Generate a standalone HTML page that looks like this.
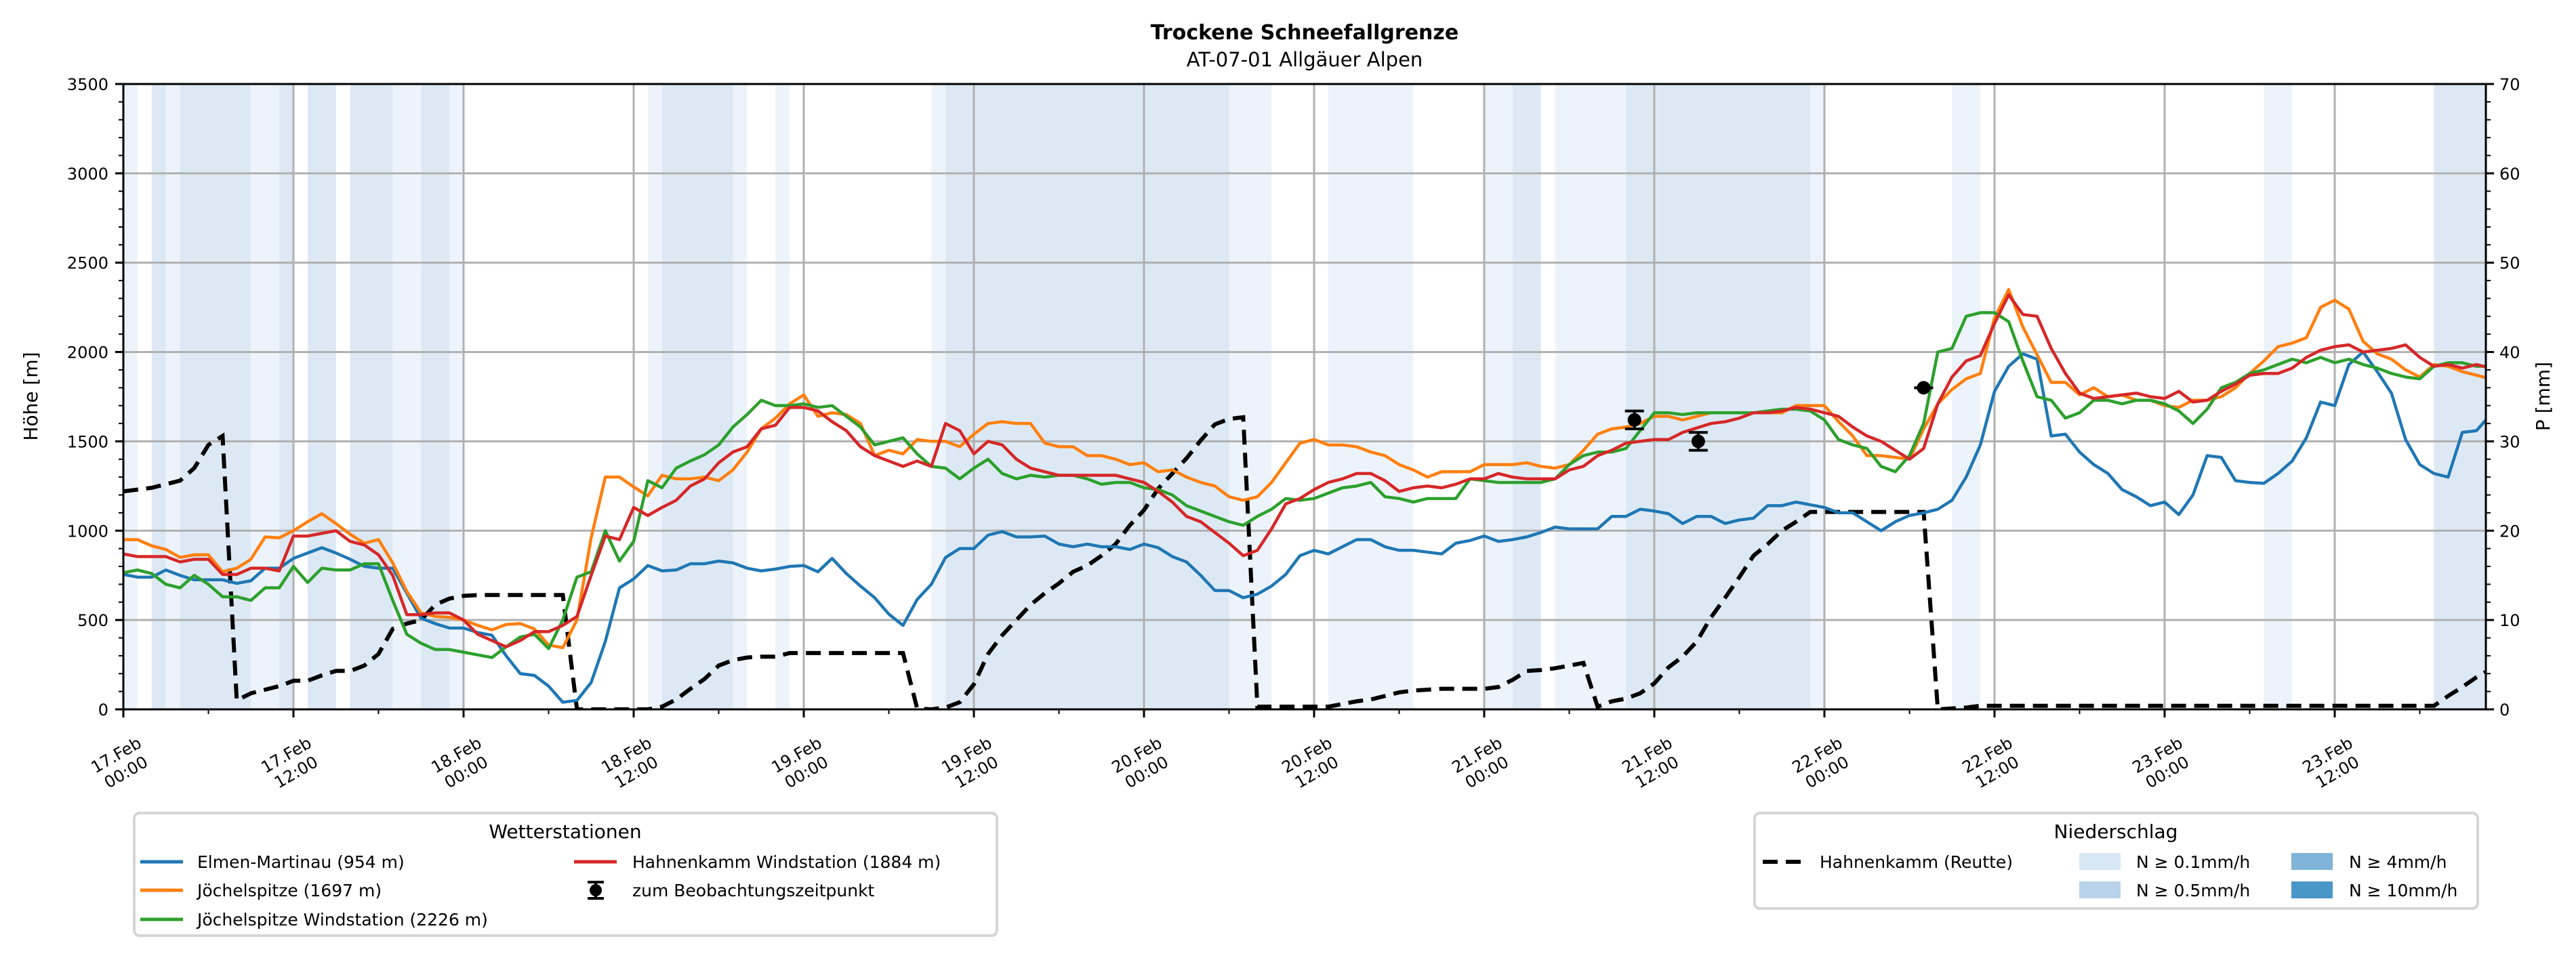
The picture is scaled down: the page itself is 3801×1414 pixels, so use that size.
<!DOCTYPE html>
<html><head><meta charset="utf-8"><title>Trockene Schneefallgrenze</title>
<style>
html,body{margin:0;padding:0;background:#fff;}
svg{display:block;font-family:"DejaVu Sans","Liberation Sans",sans-serif;}
</style></head>
<body>
<svg id="chart" width="3801" height="1414" viewBox="0 0 3801 1414" xmlns="http://www.w3.org/2000/svg">
<defs><clipPath id="plotclip"><rect x="182" y="124" width="3486" height="923"/></clipPath></defs>
<rect x="0" y="0" width="3801" height="1414" fill="#fff"/>
<text x="1925" y="58" font-size="30" font-weight="bold" text-anchor="middle">Trockene Schneefallgrenze</text>
<text x="1925" y="98" font-size="29" text-anchor="middle">AT-07-01 Allgäuer Alpen</text>
<g id="bands" clip-path="url(#plotclip)"></g>
<g id="grid"></g>
<g id="series" clip-path="url(#plotclip)"></g>
<g id="axes"></g>
<text transform="translate(55,585) rotate(-90)" font-size="28" text-anchor="middle">Höhe [m]</text>
<text transform="translate(3762,585) rotate(-90)" font-size="28" text-anchor="middle">P [mm]</text>

<g>
<rect x="198" y="1200" width="1273" height="181" rx="8" fill="#fff" stroke="#d5d5d5" stroke-width="4"/>
<text x="834" y="1237" font-size="28" text-anchor="middle">Wetterstationen</text>
<g><line x1="207" y1="1272" x2="270" y2="1272" stroke="#1f77b4" stroke-width="5"/><text x="291" y="1281" font-size="25">Elmen-Martinau (954 m)</text></g>
<g><line x1="207" y1="1314" x2="270" y2="1314" stroke="#ff7f0e" stroke-width="5"/><text x="291" y="1323" font-size="25">Jöchelspitze (1697 m)</text></g>
<g><line x1="207" y1="1357" x2="270" y2="1357" stroke="#2ca02c" stroke-width="5"/><text x="291" y="1366" font-size="25">Jöchelspitze Windstation (2226 m)</text></g>
<g><line x1="847" y1="1272" x2="910" y2="1272" stroke="#d62728" stroke-width="5"/><text x="933" y="1281" font-size="25">Hahnenkamm Windstation (1884 m)</text></g>
<g><line x1="879" y1="1302" x2="879" y2="1326" stroke="#000" stroke-width="4"/><line x1="867" y1="1302" x2="891" y2="1302" stroke="#000" stroke-width="4"/><line x1="867" y1="1326" x2="891" y2="1326" stroke="#000" stroke-width="4"/><circle cx="879" cy="1314" r="9" fill="#000"/><text x="933" y="1323" font-size="25">zum Beobachtungszeitpunkt</text></g>
</g>

<g>
<rect x="2589" y="1200" width="1067" height="141" rx="8" fill="#fff" stroke="#d5d5d5" stroke-width="4"/>
<text x="3122" y="1237" font-size="28" text-anchor="middle">Niederschlag</text>
<g><line x1="2601" y1="1272" x2="2657" y2="1272" stroke="#000" stroke-width="6" stroke-dasharray="22,12"/><text x="2685" y="1281" font-size="25">Hahnenkamm (Reutte)</text></g>
<g><rect x="3068" y="1259" width="61" height="25" fill="#d9e8f5"/><text x="3152" y="1281" font-size="25">N ≥ 0.1mm/h</text></g>
<g><rect x="3068" y="1301" width="61" height="25" fill="#b9d4ea"/><text x="3152" y="1323" font-size="25">N ≥ 0.5mm/h</text></g>
<g><rect x="3381" y="1259" width="61" height="25" fill="#7fb5d9"/><text x="3466" y="1281" font-size="25">N ≥ 4mm/h</text></g>
<g><rect x="3381" y="1301" width="61" height="25" fill="#4a96c9"/><text x="3466" y="1323" font-size="25">N ≥ 10mm/h</text></g>
</g>
</svg>
<script>
const elmen = [755,740,740,780,750,725,725,725,705,720,
790,790,845,875,905,875,840,800,790,790,
650,510,480,455,455,430,415,300,200,190,
130,40,50,150,380,680,730,805,775,780,
815,815,830,820,790,775,785,800,805,770,
845,760,690,625,533,470,615,700,850,900,
900,975,995,965,965,970,925,910,925,910,
910,895,925,905,855,825,750,665,665,625,
645,690,755,860,890,870,910,950,950,910,
890,890,880,870,930,945,970,940,950,965,
990,1020,1010,1010,1010,1080,1080,1120,1110,1095,
1040,1080,1080,1040,1060,1070,1140,1140,1160,1145,
1130,1100,1100,1050,1000,1050,1085,1100,1120,1170,
1300,1480,1780,1920,1990,1960,1530,1540,1440,1370,
1320,1230,1190,1140,1160,1090,1200,1420,1410,1280,
1270,1265,1320,1390,1520,1720,1700,1930,2000,1890,
1770,1510,1370,1320,1300,1550,1560,1650];
const joechel = [950,950,915,895,850,865,865,770,790,840,
965,960,1000,1050,1095,1040,980,930,950,820,
660,540,520,515,500,470,445,475,480,450,
360,345,500,960,1300,1300,1245,1195,1310,1290,
1290,1300,1280,1340,1440,1570,1630,1710,1760,1640,
1660,1650,1600,1420,1450,1430,1510,1500,1500,1470,
1540,1600,1610,1600,1600,1490,1470,1470,1420,1420,
1400,1370,1380,1330,1340,1300,1270,1250,1190,1170,
1190,1270,1380,1490,1510,1480,1480,1470,1440,1420,
1370,1340,1300,1330,1330,1330,1370,1370,1370,1380,
1360,1350,1370,1450,1540,1570,1580,1600,1640,1640,
1620,1640,1660,1660,1660,1660,1660,1660,1700,1700,
1700,1610,1530,1420,1420,1410,1400,1570,1710,1790,
1850,1880,2190,2350,2140,1985,1830,1830,1760,1800,
1750,1760,1730,1730,1700,1690,1730,1730,1750,1800,
1880,1950,2030,2050,2080,2250,2290,2240,2060,1990,
1960,1900,1860,1930,1920,1890,1870,1850];
const joechelWind = [765,780,760,700,680,750,700,630,630,610,
680,680,800,710,790,780,780,815,815,610,
420,370,335,335,320,305,290,350,405,420,
340,500,740,770,1000,830,940,1280,1240,1350,
1390,1425,1480,1580,1650,1730,1700,1700,1710,1690,
1700,1640,1580,1480,1500,1520,1430,1360,1350,1290,
1350,1400,1320,1290,1310,1300,1310,1310,1290,1260,
1270,1270,1240,1230,1200,1140,1110,1080,1050,1030,
1080,1120,1180,1170,1180,1210,1240,1250,1270,1190,
1180,1160,1180,1180,1180,1290,1280,1270,1270,1270,
1270,1290,1370,1420,1440,1440,1460,1560,1660,1660,
1650,1660,1660,1660,1660,1660,1670,1680,1680,1670,
1620,1510,1480,1460,1360,1330,1420,1600,2000,2020,
2200,2220,2220,2170,1950,1750,1730,1630,1660,1730,
1730,1710,1730,1730,1710,1670,1600,1680,1800,1830,
1880,1900,1930,1960,1940,1970,1940,1960,1930,1910,
1880,1860,1850,1920,1940,1940,1920,1920];
const hahnenWind = [870,855,855,855,825,840,840,755,755,790,
790,775,970,970,985,1000,940,920,865,750,
530,530,540,540,500,420,385,350,385,435,
435,470,520,750,970,950,1130,1085,1130,1170,
1250,1290,1380,1440,1470,1570,1590,1690,1690,1670,
1610,1560,1470,1420,1390,1360,1390,1360,1600,1560,
1430,1500,1480,1400,1350,1330,1310,1310,1310,1310,
1310,1290,1270,1220,1160,1080,1050,990,930,860,
890,1010,1150,1180,1230,1270,1290,1320,1320,1280,
1220,1240,1250,1240,1260,1290,1290,1320,1300,1290,
1290,1290,1340,1360,1420,1450,1490,1500,1510,1510,
1550,1575,1600,1610,1630,1660,1660,1670,1690,1680,
1660,1640,1580,1530,1500,1450,1400,1460,1710,1860,
1950,1980,2160,2320,2210,2200,2020,1880,1770,1740,
1750,1760,1770,1750,1740,1780,1720,1730,1780,1820,
1870,1880,1880,1910,1970,2010,2030,2040,2000,2010,
2020,2040,1970,1920,1930,1910,1930,1910];
const precipReutte = [24.4,24.6,24.8,25.2,25.6,27,29.6,30.6,1,1.8,
2.2,2.6,3.2,3.2,3.8,4.3,4.3,4.9,6.2,9,
9.6,10,11.7,12.4,12.7,12.8,12.8,12.8,12.8,12.8,
12.8,12.8,0,0,0,0,0,0,0.3,1.1,
2.3,3.4,4.9,5.5,5.8,5.9,5.9,6.3,6.3,6.3,
6.3,6.3,6.3,6.3,6.3,6.3,0.1,0,0.2,0.8,
2.8,6.2,8.3,10,11.7,13,14.1,15.4,16.1,17.2,
18.5,20.6,22.3,24.7,26.4,28.1,30.1,31.9,32.5,32.7,
0.3,0.3,0.3,0.3,0.3,0.3,0.6,0.9,1.1,1.5,
1.9,2.1,2.2,2.3,2.3,2.3,2.3,2.5,3.3,4.3,
4.4,4.6,4.9,5.2,0.3,0.9,1.2,1.8,2.9,4.7,
5.9,7.6,10.3,12.5,14.8,17.2,18.5,20,21,22.1,
22.1,22.1,22.1,22.1,22.1,22.1,22.1,22.1,0,0.1,
0.2,0.4,0.4,0.4,0.4,0.4,0.4,0.4,0.4,0.4,
0.4,0.4,0.4,0.4,0.4,0.4,0.4,0.4,0.4,0.4,
0.4,0.4,0.4,0.4,0.4,0.4,0.4,0.4,0.4,0.4,
0.4,0.4,0.4,0.4,1.5,2.5,3.6,4.5];
const bandStart = [0,3,9,19,23,37,43,46,57,78,85,96,101,119,129,151, 2,4,11,13,16,21,38,58,98,106,163];
const bandEnd   = [1,4,11,21,24,38,44,47,58,81,91,98,106,120,131,153, 3,9,12,15,19,23,43,78,100,119,167];
const bandLevel = [1,1,1,1,1,1,1,1,1,1,1,1,1,1,1,1, 2,2,2,2,2,2,2,2,2,2,2];
const obsHour = [106.6,111.1,127];
const obsValue = [1620,1500,1800];
const obsErr = [50,50,0];
const xTickHours = [0,12,24,36,48,60,72,84,96,108,120,132,144,156];
const xTickDates = ["17.Feb","17.Feb","18.Feb","18.Feb","19.Feb","19.Feb","20.Feb","20.Feb","21.Feb","21.Feb","22.Feb","22.Feb","23.Feb","23.Feb"];
const xTickTimes = ["00:00","12:00","00:00","12:00","00:00","12:00","00:00","12:00","00:00","12:00","00:00","12:00","00:00","12:00"];
const yTicks = [0,500,1000,1500,2000,2500,3000,3500];
const y2Ticks = [0,10,20,30,40,50,60,70];

const NS="http://www.w3.org/2000/svg";
const L=182,R=3668,T=124,B=1047;
const xs=h=>L+h*(251/12);
const ys=m=>B-m*(B-T)/3500;
const ys2=p=>B-p*(B-T)/70;
function mk(tag,attrs,parent){const e=document.createElementNS(NS,tag);for(const k in attrs)e.setAttribute(k,attrs[k]);parent.appendChild(e);return e;}
const gB=document.getElementById('bands'),gG=document.getElementById('grid'),gS=document.getElementById('series'),gA=document.getElementById('axes');
const bandColor={1:'#edf3fa',2:'#dce9f4'};
bandStart.forEach((s,i)=>{
 const r=mk('rect',{x:xs(s),y:T,width:xs(bandEnd[i])-xs(s),height:B-T,fill:bandColor[bandLevel[i]]},gB);
 
 
});
xTickHours.forEach(h=>{const l=mk('line',{x1:xs(h),x2:xs(h),y1:T,y2:B,stroke:'#b0b0b0','stroke-width':3},gG);
 
 });
yTicks.forEach(v=>{const l=mk('line',{x1:L,x2:R,y1:ys(v),y2:ys(v),stroke:'#b0b0b0','stroke-width':3},gG);
 
 });
const pp=precipReutte.map((v,i)=>xs(i)+','+ys2(v)).join(' ');
const pl=mk('polyline',{points:pp,fill:'none',stroke:'#000','stroke-width':6,'stroke-dasharray':'22,12'},gS);


const seriesList=[[elmen,'#1f77b4','elmen-line'],[joechel,'#ff7f0e','joechelspitze-line'],[joechelWind,'#2ca02c','joechelspitze-wind-line'],[hahnenWind,'#d62728','hahnenkamm-wind-line']];
seriesList.forEach(s=>{
 const p=mk('polyline',{points:s[0].map((v,i)=>xs(i)+','+ys(v)).join(' '),fill:'none',stroke:s[1],'stroke-width':4.5,'stroke-linejoin':'round'},gS);
 
 
});
obsHour.forEach((h,i)=>{
 const g=mk('g',{},gS);
 
 
 const cx=xs(h),cy=ys(obsValue[i]),t=ys(obsValue[i]+obsErr[i]),b=ys(obsValue[i]-obsErr[i]);
 mk('line',{x1:cx,x2:cx,y1:t,y2:b,stroke:'#000','stroke-width':4},g);
 mk('line',{x1:cx-14,x2:cx+14,y1:t,y2:t,stroke:'#000','stroke-width':4},g);
 mk('line',{x1:cx-14,x2:cx+14,y1:b,y2:b,stroke:'#000','stroke-width':4},g);
 mk('circle',{cx:cx,cy:cy,r:10,fill:'#000'},g);
});
const fr=mk('rect',{x:L,y:T,width:R-L,height:B-T,fill:'none',stroke:'#000','stroke-width':3},gA);


for(let v=0;v<=3500;v+=100){const maj=v%500===0;mk('line',{x1:L,x2:L-(maj?12:7),y1:ys(v),y2:ys(v),stroke:'#000','stroke-width':maj?3:2},gA);}
yTicks.forEach(v=>{const t=mk('text',{x:L-22,y:ys(v)+9,'font-size':24,'text-anchor':'end'},gA);t.textContent=v;
 
 });
for(let v=0;v<=70;v+=2){const maj=v%10===0;mk('line',{x1:R,x2:R+(maj?12:7),y1:ys2(v),y2:ys2(v),stroke:'#000','stroke-width':maj?3:2},gA);}
y2Ticks.forEach(v=>{const t=mk('text',{x:R+20,y:ys2(v)+9,'font-size':24},gA);t.textContent=v;
 
 });
for(let h=0;h<=166;h+=6){const maj=h%12===0;mk('line',{x1:xs(h),x2:xs(h),y1:B,y2:B+(maj?12:7),stroke:'#000','stroke-width':maj?3:2},gA);}
xTickHours.forEach((h,i)=>{
 const cx=xs(h)-4,cy=1126;
 const t=mk('text',{transform:`translate(${cx},${cy}) rotate(-30)`,'font-size':24,'text-anchor':'middle'},gA);
 
 
 const a=mk('tspan',{x:0,y:-5},t);a.textContent=xTickDates[i];
 const b=mk('tspan',{x:0,y:24},t);b.textContent=xTickTimes[i];
});
</script>
</body></html>
